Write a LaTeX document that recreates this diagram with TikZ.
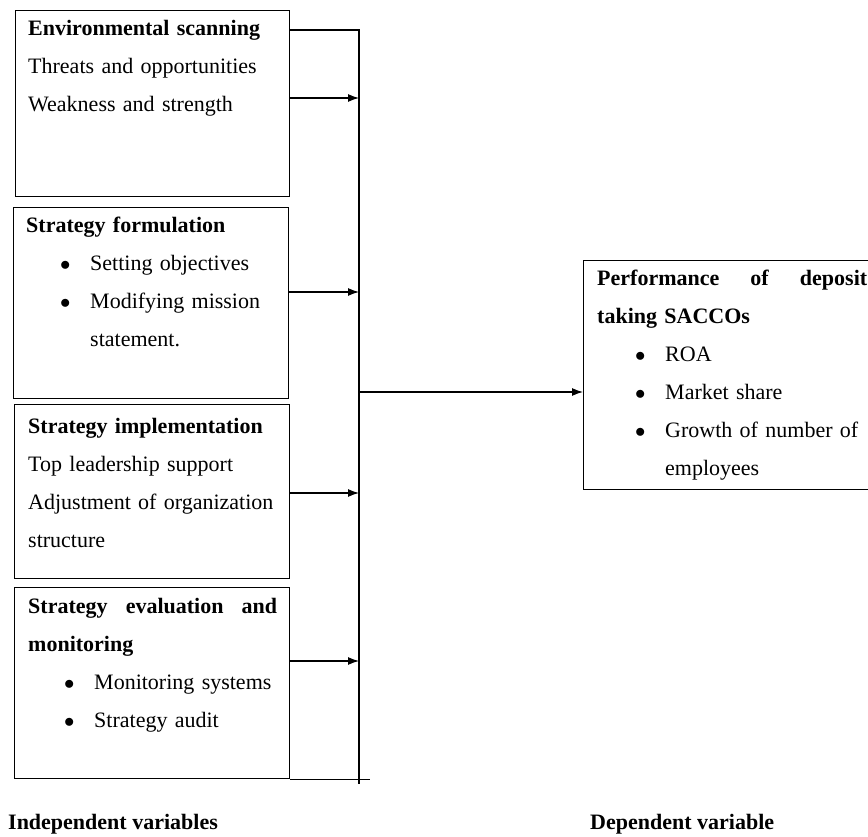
\documentclass[tikz,border=0pt]{standalone}
\usepackage{fontspec}
\setmainfont{Liberation Serif}
\usetikzlibrary{arrows.meta}
\newcommand{\bul}{\makebox[30pt][l]{$\bullet$}}
\newcommand{\spread}[2]{\hbox to #1{#2}}

\begin{document}
\begin{tikzpicture}[x=1pt,y=-1pt,
    box/.style={draw,rectangle,line width=1.4pt,inner sep=0pt,anchor=north west},
    txt/.style={inner sep=0pt,anchor=base west,align=left,font=\fontsize{22}{38}\selectfont},
    lbl/.style={inner sep=0pt,anchor=base west,font=\fontsize{22}{25}\selectfont\bfseries},
    link/.style={line width=1.2pt},
    arr/.style={line width=1.2pt,-{Latex[length=11pt,width=8pt]}}]
    \useasboundingbox (0,0) rectangle (868,837);
    % independent variables
    \node[box,minimum width=274pt,minimum height=186pt] (env) at (15,10) {};
    \node[box,minimum width=275pt,minimum height=191pt] (form) at (13,207) {};
    \node[box,minimum width=275pt,minimum height=174pt] (impl) at (14,404) {};
    \node[box,minimum width=275pt,minimum height=191pt] (eval) at (14,587) {};
    % dependent variable
    \node[box,minimum width=290pt,minimum height=229pt] (perf) at (583,260) {};
    \node[txt,text width=262pt] (envtxt) at (28,36) {\textbf{Environmental scanning}\\Threats and opportunities\\Weakness and strength};
    \node[txt,text width=262pt] (formtxt) at (26,233) {\textbf{Strategy formulation}\\\hspace*{34pt}\bul Setting objectives\\\hspace*{34pt}\bul Modifying mission\\\hspace*{64pt}statement.};
    \node[txt,text width=262pt] (impltxt) at (28,433) {\textbf{Strategy implementation}\\Top leadership support\\Adjustment of organization\\structure};
    \node[txt,text width=262pt] (evaltxt) at (28,613) {\spread{249pt}{\textbf{Strategy}\hfill\textbf{evaluation}\hfill\textbf{and}}\\\textbf{monitoring}\\\hspace*{36pt}\bul Monitoring systems\\\hspace*{36pt}\bul Strategy audit};
    \node[txt,text width=290pt] (perftxt) at (597,286) {\spread{270pt}{\textbf{Performance}\hfill\textbf{of}\hfill\textbf{deposit}}\\\textbf{taking SACCOs}\\\hspace*{38pt}\bul ROA\\\hspace*{38pt}\bul Market share\\\hspace*{38pt}\bul Growth of number of\\\hspace*{68pt}employees};
    \node[lbl] (indep) at (8,829) {Independent variables};
    \node[lbl] (dep) at (590,829) {Dependent variable};
    % connectors
    \coordinate (top) at (359,30);
    \coordinate (bot) at (359,784);
    \draw[link] (env.east |- top) -- (top) -- (bot);
    \draw[arr] (env.east |- 0,98) -- (top |- 0,98);
    \draw[arr] (form.east |- 0,292) -- (top |- 0,292);
    \draw[arr] (impl.east |- 0,493) -- (top |- 0,493);
    \draw[arr] (eval.east |- 0,661) -- (top |- 0,661);
    \draw[link] (eval.south east) -- ++(80,0);
    \draw[arr] (top |- 0,392) -- (perf.west |- 0,392);
\end{tikzpicture}
\end{document}
